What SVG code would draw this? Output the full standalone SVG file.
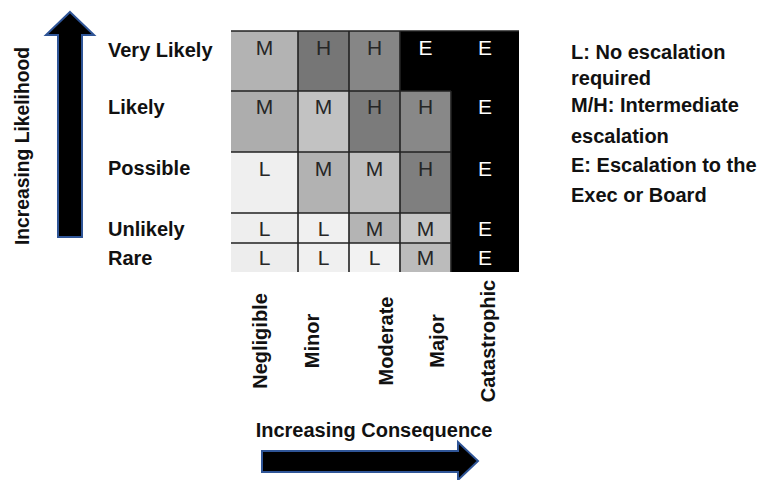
<svg xmlns="http://www.w3.org/2000/svg" width="761" height="480" viewBox="0 0 761 480">
<style>
.lbl{font-family:"Liberation Sans",Arial,sans-serif;font-weight:bold;font-size:20px;fill:#111}
.cell{font-family:"Liberation Sans",Arial,sans-serif;font-size:21px;fill:#262626;text-anchor:middle}
.w{fill:#ffffff}
.grid{stroke:#222;stroke-width:1.6;fill:none}
.arrow{fill:#000;stroke:#2f5597;stroke-width:2;stroke-linejoin:miter}
</style>
<rect width="761" height="480" fill="#fff"/>
<g id="matrix">
  <rect x="231" y="31" width="67" height="60" fill="#b3b3b3"/>
  <rect x="298" y="31" width="51" height="60" fill="#767676"/>
  <rect x="349" y="31" width="51" height="60" fill="#868686"/>
  <rect x="400" y="31" width="119" height="60" fill="#000"/>
  <rect x="231" y="91" width="67" height="61" fill="#adadad"/>
  <rect x="298" y="91" width="51" height="61" fill="#c2c2c2"/>
  <rect x="349" y="91" width="51" height="61" fill="#7b7b7b"/>
  <rect x="400" y="91" width="51" height="61" fill="#888888"/>
  <rect x="231" y="152" width="67" height="61" fill="#efefef"/>
  <rect x="298" y="152" width="51" height="61" fill="#b2b2b2"/>
  <rect x="349" y="152" width="51" height="61" fill="#bfbfbf"/>
  <rect x="400" y="152" width="51" height="61" fill="#7f7f7f"/>
  <rect x="231" y="213" width="67" height="30" fill="#eeeeee"/>
  <rect x="298" y="213" width="51" height="30" fill="#f0f0f0"/>
  <rect x="349" y="213" width="51" height="30" fill="#b4b4b4"/>
  <rect x="400" y="213" width="51" height="30" fill="#c6c6c6"/>
  <rect x="231" y="243" width="67" height="29" fill="#ededed"/>
  <rect x="298" y="243" width="51" height="29" fill="#f0f0f0"/>
  <rect x="349" y="243" width="51" height="29" fill="#f2f2f2"/>
  <rect x="400" y="243" width="51" height="29" fill="#bbbbbb"/>
  <rect x="451" y="91" width="68" height="181" fill="#000"/>
  <path class="grid" d="M231 31H519M231 91H451M231 152H451M231 213H451M231 243H451M298 31V272M349 31V272M400 31V272M451 91V272"/>
  <text class="cell" x="264.5" y="55">M</text>
  <text class="cell" x="323.5" y="55">H</text>
  <text class="cell" x="374.5" y="55">H</text>
  <text class="cell w" x="425.5" y="55">E</text>
  <text class="cell w" x="485" y="55">E</text>
  <text class="cell" x="264.5" y="114">M</text>
  <text class="cell" x="323.5" y="114">M</text>
  <text class="cell" x="374.5" y="114">H</text>
  <text class="cell" x="425.5" y="114">H</text>
  <text class="cell w" x="485" y="114">E</text>
  <text class="cell" x="264.5" y="176">L</text>
  <text class="cell" x="323.5" y="176">M</text>
  <text class="cell" x="374.5" y="176">M</text>
  <text class="cell" x="425.5" y="176">H</text>
  <text class="cell w" x="485" y="176">E</text>
  <text class="cell" x="264.5" y="236">L</text>
  <text class="cell" x="323.5" y="236">L</text>
  <text class="cell" x="374.5" y="236">M</text>
  <text class="cell" x="425.5" y="236">M</text>
  <text class="cell w" x="485" y="236">E</text>
  <text class="cell" x="264.5" y="265">L</text>
  <text class="cell" x="323.5" y="265">L</text>
  <text class="cell" x="374.5" y="265">L</text>
  <text class="cell" x="425.5" y="265">M</text>
  <text class="cell w" x="485" y="265">E</text>
</g>
<g id="row-labels">
  <text class="lbl" x="108" y="57">Very Likely</text>
  <text class="lbl" x="108" y="114">Likely</text>
  <text class="lbl" x="108" y="175">Possible</text>
  <text class="lbl" x="108" y="236">Unlikely</text>
  <text class="lbl" x="108" y="265">Rare</text>
</g>
<g id="col-labels" text-anchor="middle">
  <text class="lbl" transform="translate(267,341) rotate(-90)">Negligible</text>
  <text class="lbl" transform="translate(319,341) rotate(-90)">Minor</text>
  <text class="lbl" transform="translate(393,341) rotate(-90)">Moderate</text>
  <text class="lbl" transform="translate(444,341) rotate(-90)">Major</text>
  <text class="lbl" transform="translate(495,341) rotate(-90)">Catastrophic</text>
</g>
<g id="legend">
  <text class="lbl" x="571" y="59">L: No escalation</text>
  <text class="lbl" x="571" y="85">required</text>
  <text class="lbl" x="571" y="112">M/H: Intermediate</text>
  <text class="lbl" x="571" y="143">escalation</text>
  <text class="lbl" x="571" y="172">E: Escalation to the</text>
  <text class="lbl" x="571" y="202">Exec or Board</text>
</g>
<g id="likelihood-axis">
  <polygon class="arrow" points="70,12 94,35 82,35 82,237 58,237 58,35 46,35"/>
  <text class="lbl" text-anchor="middle" textLength="198" lengthAdjust="spacingAndGlyphs" transform="translate(29,146) rotate(-90)">Increasing Likelihood</text>
</g>
<g id="consequence-axis">
  <text class="lbl" x="374" y="437" text-anchor="middle">Increasing Consequence</text>
  <polygon class="arrow" points="262,451 458,451 458,442 478,461 458,480 458,472 262,472"/>
</g>
</svg>
